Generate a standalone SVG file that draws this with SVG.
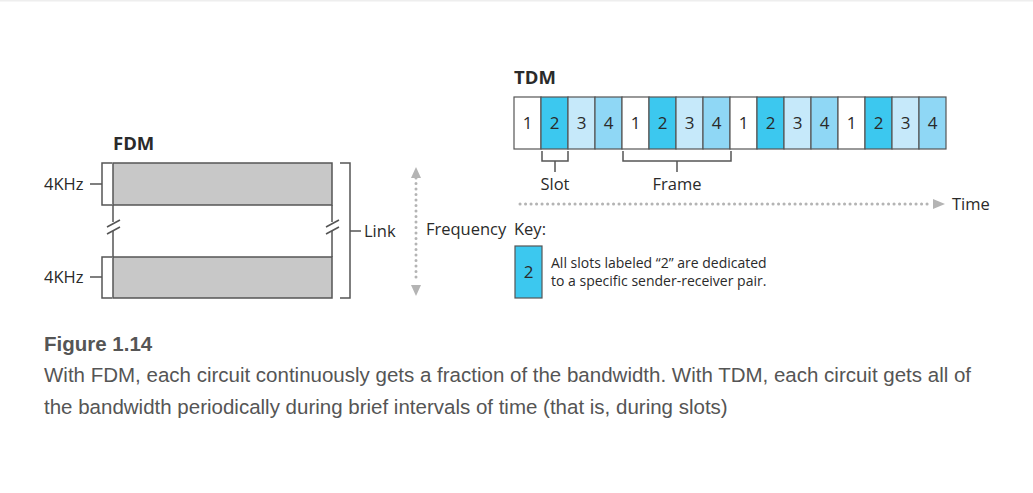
<svg xmlns="http://www.w3.org/2000/svg" width="1033" height="493" viewBox="0 0 1033 493">
<style>
.lbl{font-family:"Open Sans","Liberation Sans",sans-serif;font-size:16.5px;fill:#2a2a2a}
.hd{font-family:"Open Sans","Liberation Sans",sans-serif;font-size:18.5px;font-weight:bold;fill:#2a2a2a}
.num{font-family:"Open Sans","Liberation Sans",sans-serif;font-size:17px;fill:#2a2a2a;text-anchor:middle}
.key{font-family:"Open Sans","Liberation Sans",sans-serif;font-size:14px;fill:#2a2a2a}
.cap{font-family:"Liberation Sans",Arial,sans-serif;font-size:20.5px;fill:#555}
.ln{stroke:#555;stroke-width:1.5;fill:none}
.band{fill:#c8c8c8;stroke:#555;stroke-width:1.5}
.s1{fill:#ffffff;stroke:#555;stroke-width:1.2}
.s2{fill:#3cc8ef;stroke:#555;stroke-width:1.2}
.s3{fill:#c6e9fa;stroke:#555;stroke-width:1.2}
.s4{fill:#8fd7f5;stroke:#555;stroke-width:1.2}
.dot{stroke:#b4b4b4;stroke-width:3;stroke-dasharray:0.1 5.4;stroke-linecap:round;fill:none}
</style>
<rect x="0" y="0" width="1033" height="493" fill="#fff"/>
<rect x="0" y="0" width="1033" height="1.5" fill="#eeeeee"/>

<g id="fdm">
  <text class="hd" x="113" y="150">FDM</text>
  <rect class="band" x="113" y="163" width="219" height="42"/>
  <rect class="band" x="113" y="257" width="219" height="41"/>
  <path class="ln" d="M113 205 V222 M113 231 V257 M332 205 V222 M332 231 V257"/>
  <path class="ln" d="M107 227 L120 220 M107 234 L120 227 M326 227 L339 220 M326 234 L339 227" stroke-width="1.2"/>
  <path class="ln" d="M112 163 H102 V205 H112 M90 184 H102"/>
  <path class="ln" d="M112 257 H102 V298 H112 M90 277 H102"/>
  <text class="lbl" x="44" y="190">4KHz</text>
  <text class="lbl" x="44" y="283">4KHz</text>
  <path class="ln" d="M340 163 H350 V298 H340 M350 231 H361"/>
  <text class="lbl" x="364" y="237">Link</text>
</g>

<g id="freq">
  <line class="dot" x1="416" y1="178" x2="416" y2="282"/>
  <path d="M411 178 L416 167 L421 178 Z" fill="#b4b4b4"/>
  <path d="M411 285 L416 296 L421 285 Z" fill="#b4b4b4"/>
  <text class="lbl" x="426" y="235">Frequency</text>
</g>

<g id="tdm">
  <text class="hd" x="514" y="84">TDM</text>
  <rect class="s1" x="514" y="97" width="27" height="52"/>
  <rect class="s2" x="541" y="97" width="27" height="52"/>
  <rect class="s3" x="568" y="97" width="27" height="52"/>
  <rect class="s4" x="595" y="97" width="27" height="52"/>
  <rect class="s1" x="622" y="97" width="27" height="52"/>
  <rect class="s2" x="649" y="97" width="27" height="52"/>
  <rect class="s3" x="676" y="97" width="27" height="52"/>
  <rect class="s4" x="703" y="97" width="27" height="52"/>
  <rect class="s1" x="730" y="97" width="27" height="52"/>
  <rect class="s2" x="757" y="97" width="27" height="52"/>
  <rect class="s3" x="784" y="97" width="27" height="52"/>
  <rect class="s4" x="811" y="97" width="27" height="52"/>
  <rect class="s1" x="838" y="97" width="27" height="52"/>
  <rect class="s2" x="865" y="97" width="27" height="52"/>
  <rect class="s3" x="892" y="97" width="27" height="52"/>
  <rect class="s4" x="919" y="97" width="27" height="52"/>
  <text class="num" x="527.5" y="129">1</text>
  <text class="num" x="554.5" y="129">2</text>
  <text class="num" x="581.5" y="129">3</text>
  <text class="num" x="608.5" y="129">4</text>
  <text class="num" x="635.5" y="129">1</text>
  <text class="num" x="662.5" y="129">2</text>
  <text class="num" x="689.5" y="129">3</text>
  <text class="num" x="716.5" y="129">4</text>
  <text class="num" x="743.5" y="129">1</text>
  <text class="num" x="770.5" y="129">2</text>
  <text class="num" x="797.5" y="129">3</text>
  <text class="num" x="824.5" y="129">4</text>
  <text class="num" x="851.5" y="129">1</text>
  <text class="num" x="878.5" y="129">2</text>
  <text class="num" x="905.5" y="129">3</text>
  <text class="num" x="932.5" y="129">4</text>
</g>

<g id="connectors">
  <path class="ln" d="M542 151 V161 H568 V151 M555 161 V172" stroke-width="1.2"/>
  <path class="ln" d="M623 151 V161 H731 V151 M677 161 V172" stroke-width="1.2"/>
  <line class="dot" x1="520" y1="204" x2="932" y2="204"/>
  <path d="M933 199 L945 204 L933 209 Z" fill="#b4b4b4"/>
</g>

<g id="labels">
  <text class="lbl" x="555" y="190" text-anchor="middle">Slot</text>
  <text class="lbl" x="677" y="190" text-anchor="middle">Frame</text>
  <text class="lbl" x="952" y="210">Time</text>
</g>

<g id="key">
  <text class="lbl" x="514" y="235">Key:</text>
  <rect class="s2" x="515" y="246" width="27" height="52"/>
  <text class="num" x="528.5" y="278">2</text>
  <text class="key" x="551" y="268">All slots labeled “2” are dedicated</text>
  <text class="key" x="551" y="286">to a specific sender-receiver pair.</text>
</g>

<g id="caption">
  <text class="cap" x="44" y="351" font-weight="bold">Figure 1.14</text>
  <text class="cap" x="44" y="382">With FDM, each circuit continuously gets a fraction of the bandwidth. With TDM, each circuit gets all of</text>
  <text class="cap" x="44" y="414">the bandwidth periodically during brief intervals of time (that is, during slots)</text>
</g>
</svg>
